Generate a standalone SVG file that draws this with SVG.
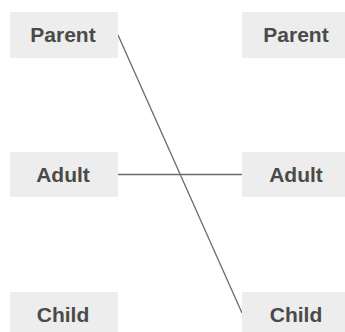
<svg xmlns="http://www.w3.org/2000/svg" width="345" height="332" viewBox="0 0 345 332">
<style>
.box{fill:#ededed}
.lbl{font-family:"Liberation Sans",Arial,sans-serif;font-weight:bold;font-size:21px;fill:#4a4a4a;text-anchor:middle}
.edge{stroke:#6a6a6a;stroke-width:1.3;fill:none}
</style>
<rect width="345" height="332" fill="#ffffff"/>
<g id="connectors">
<line class="edge" x1="118" y1="35" x2="242" y2="313"/>
<line class="edge" x1="118" y1="174.5" x2="242" y2="174.5"/>
</g>
<g id="parent-left"><rect class="box" x="10" y="12" width="108" height="46"/><text class="lbl" x="63" y="42">Parent</text></g>
<g id="adult-left"><rect class="box" x="10" y="152" width="108" height="45"/><text class="lbl" x="63" y="182">Adult</text></g>
<g id="child-left"><rect class="box" x="10" y="292" width="108" height="46"/><text class="lbl" x="63" y="322">Child</text></g>
<g id="parent-right"><rect class="box" x="242" y="12" width="108" height="46"/><text class="lbl" x="296" y="42">Parent</text></g>
<g id="adult-right"><rect class="box" x="242" y="152" width="108" height="45"/><text class="lbl" x="296" y="182">Adult</text></g>
<g id="child-right"><rect class="box" x="242" y="292" width="108" height="46"/><text class="lbl" x="296" y="322">Child</text></g>
</svg>
